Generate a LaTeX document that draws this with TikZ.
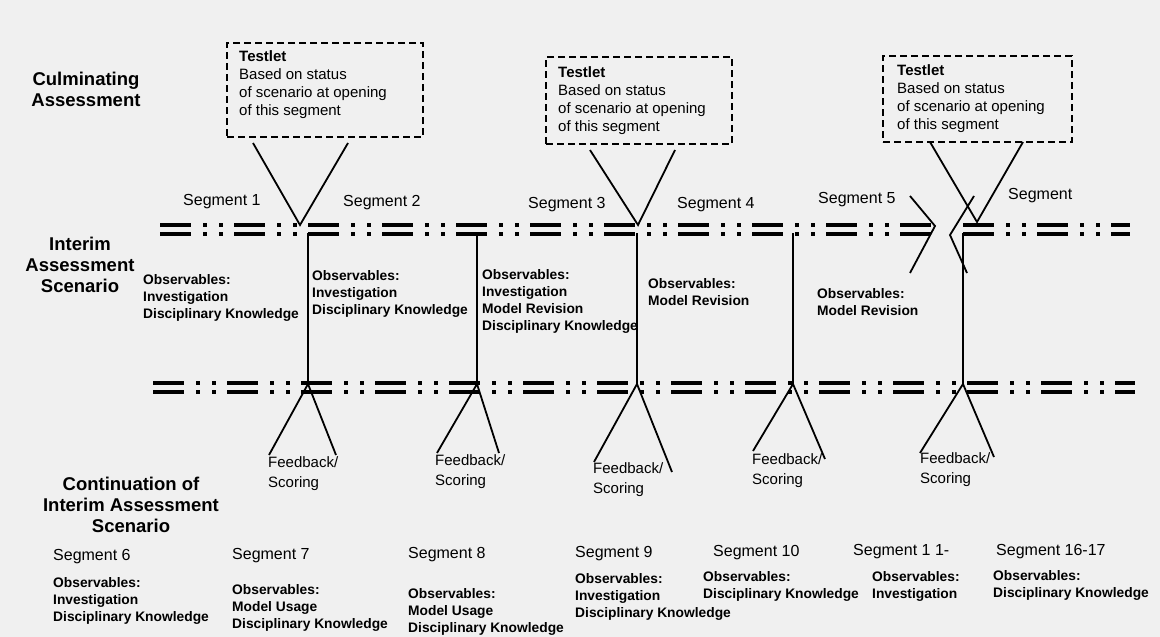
\documentclass[tikz,border=0pt]{standalone}
\usepackage{fontspec}
\setmainfont{Liberation Sans}
\usetikzlibrary{calc}
\begin{document}
\begin{tikzpicture}[x=1pt,y=-1pt,
  track/.style={line width=3.2pt, dash pattern=on 31pt off 12pt on 4pt off 12pt on 4pt off 11pt},
  conn/.style={line width=1.8pt},
  tbox/.style={draw, line width=1.5pt, dash pattern=on 7pt off 4pt, inner sep=0pt},
  tbtext/.style={anchor=north west, inner sep=0pt, align=left, font=\fontsize{15}{18}\selectfont},
  biglab/.style={anchor=north, inner sep=0pt, align=center, font=\fontsize{18.5}{21}\selectfont\bfseries},
  seglab/.style={anchor=west, inner sep=0pt, font=\fontsize{16}{19}\selectfont},
  obs/.style={anchor=north west, inner sep=0pt, align=left, font=\fontsize{13.8}{17}\selectfont\bfseries},
  fb/.style={anchor=north west, inner sep=0pt, align=left, font=\fontsize{15}{20}\selectfont}
]
\fill[black!6] (0,0) rectangle (1160,637);
\useasboundingbox (0,0) rectangle (1160,637);

% ---------- big labels
\node[biglab] (culm) at (86,71.5) {Culminating\\Assessment};
\node[biglab] (interim) at (80,236.5) {Interim\\Assessment\\Scenario};
\node[biglab] (contin) at (131,476.5) {Continuation of\\Interim Assessment\\Scenario};

% ---------- testlet boxes
\node[tbox, minimum width=196pt, minimum height=94pt] (box1) at (325,90) {};
\node[tbox, minimum width=186pt, minimum height=87pt] (box2) at (639,100.5) {};
\node[tbox, minimum width=189pt, minimum height=86pt] (box3) at (977.5,99) {};
\node[tbtext] (box1t) at (239,50.6) {\textbf{Testlet}\\Based on status\\of scenario at opening\\of this segment};
\node[tbtext] (box2t) at (558,66) {\textbf{Testlet}\\Based on status\\of scenario at opening\\of this segment};
\node[tbtext] (box3t) at (897,64.6) {\textbf{Testlet}\\Based on status\\of scenario at opening\\of this segment};

% ---------- segment labels (top)
\node[seglab] (s1) at (183,202) {Segment 1};
\node[seglab] (s2) at (343,203) {Segment 2};
\node[seglab] (s3) at (528,205) {Segment 3};
\node[seglab] (s4) at (677,205) {Segment 4};
\node[seglab] (s5) at (818,200) {Segment 5};
\node[seglab] (sx) at (1008,196) {Segment};

% ---------- observables (top)
\node[obs] (o1) at (143,274) {Observables:\\Investigation\\Disciplinary Knowledge};
\node[obs] (o2) at (312,270) {Observables:\\Investigation\\Disciplinary Knowledge};
\node[obs] (o3) at (482,269) {Observables:\\Investigation\\Model Revision\\Disciplinary Knowledge};
\node[obs] (o4) at (648,278) {Observables:\\Model Revision};
\node[obs] (o5) at (817,288) {Observables:\\Model Revision};

% ---------- tracks
\coordinate (uL1) at (160,225); \coordinate (uL2) at (935,225);
\coordinate (uL3) at (160,234); \coordinate (uL4) at (935,234);
\coordinate (uR1) at (963,225); \coordinate (uR2) at (1130,225);
\coordinate (uR3) at (963,234); \coordinate (uR4) at (1130,234);
\coordinate (lo1) at (153,383); \coordinate (lo2) at (1135,383);
\coordinate (lo3) at (153,392); \coordinate (lo4) at (1135,392);
\draw[track] (uL1) -- (uL2);
\draw[track] (uL3) -- (uL4);
\draw[track] (uR1) -- (uR2);
\draw[track] (uR3) -- (uR4);
\draw[track] (lo1) -- (lo2);
\draw[track] (lo3) -- (lo4);

% ---------- break marks
\coordinate (b1) at (910,196); \coordinate (b2) at (935,226); \coordinate (b3) at (910,273);
\coordinate (b4) at (974,196); \coordinate (b5) at (950,235); \coordinate (b6) at (967,273);
\draw[conn] (b1) -- (b2) -- (b3);
\draw[conn] (b4) -- (b5) -- (b6);

% ---------- testlet V connectors
\coordinate (v1l) at (253,143); \coordinate (v1) at (300,225); \coordinate (v1r) at (348,143);
\coordinate (v2l) at (590,150); \coordinate (v2) at (638,225); \coordinate (v2r) at (675,150);
\coordinate (v3l) at (930,142); \coordinate (v3) at (977,222); \coordinate (v3r) at (1023,142);
\draw[conn] (v1l) -- (v1) -- (v1r);
\draw[conn] (v2l) -- (v2) -- (v2r);
\draw[conn] (v3l) -- (v3) -- (v3r);

% ---------- vertical connectors
\foreach \i/\x in {1/308,2/477,3/637,4/793,5/963}{
  \coordinate (t\i) at (\x,233);
  \coordinate (d\i) at (\x,384);
}
\foreach \i in {1,...,5}{ \draw[conn] (t\i) -- (d\i); }

% ---------- feedback
\node[fb] (fb1) at (268,456.5) {Feedback/\\Scoring};
\node[fb] (fb2) at (435,454.5) {Feedback/\\Scoring};
\node[fb] (fb3) at (593,462.5) {Feedback/\\Scoring};
\node[fb] (fb4) at (752,453.5) {Feedback/\\Scoring};
\node[fb] (fb5) at (920,452.5) {Feedback/\\Scoring};
\coordinate (f1l) at (269,455); \coordinate (f1r) at (336,455);
\coordinate (f2l) at (437,453); \coordinate (f2r) at (499,453);
\coordinate (f3l) at (594,462); \coordinate (f3r) at (672,472);
\coordinate (f4l) at (753,451); \coordinate (f4r) at (825,459);
\coordinate (f5l) at (920,453); \coordinate (f5r) at (994,457);
\foreach \i in {1,...,5}{ \draw[conn] (f\i l) -- (d\i) -- (f\i r); }

% ---------- bottom segments
\node[seglab] (s6) at (53,557) {Segment 6};
\node[seglab] (s7) at (232,556) {Segment 7};
\node[seglab] (s8) at (408,555) {Segment 8};
\node[seglab] (s9) at (575,554) {Segment 9};
\node[seglab] (s10) at (713,553) {Segment 10};
\node[seglab] (s11) at (853,552) {Segment 1 1-};
\node[seglab] (s16) at (996,552) {Segment 16-17};

\node[obs] (o6) at (53,577) {Observables:\\Investigation\\Disciplinary Knowledge};
\node[obs] (o7) at (232,584) {Observables:\\Model Usage\\Disciplinary Knowledge};
\node[obs] (o8) at (408,588) {Observables:\\Model Usage\\Disciplinary Knowledge};
\node[obs] (o9) at (575,573) {Observables:\\Investigation\\Disciplinary Knowledge};
\node[obs] (o10) at (703,571) {Observables:\\Disciplinary Knowledge};
\node[obs] (o11) at (872,571) {Observables:\\Investigation};
\node[obs] (o16) at (993,570) {Observables:\\Disciplinary Knowledge};
\end{tikzpicture}
\end{document}
